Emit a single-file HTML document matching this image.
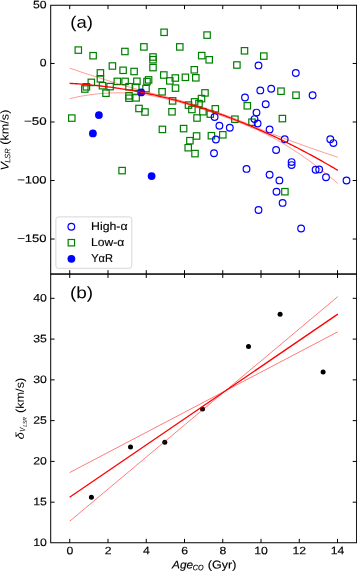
<!DOCTYPE html><html><head><meta charset="utf-8"><style>html,body{margin:0;padding:0;background:#fff;width:357px;height:571px;overflow:hidden}</style></head><body><svg width="357" height="571" viewBox="0 0 357 571" style="display:block;will-change:transform">
<rect width="100%" height="100%" fill="#fff"/>
<defs><clipPath id="ca"><rect x="50.7" y="5.25" width="305.90000000000003" height="268.8"/></clipPath><clipPath id="cb"><rect x="50.7" y="274.05" width="305.90000000000003" height="268.7"/></clipPath></defs>
<g clip-path="url(#ca)">
<rect x="75.10" y="46.90" width="6.4" height="6.4" fill="none" stroke="#008000" stroke-width="1.2"/>
<rect x="89.90" y="52.50" width="6.4" height="6.4" fill="none" stroke="#008000" stroke-width="1.2"/>
<rect x="109.20" y="62.80" width="6.4" height="6.4" fill="none" stroke="#008000" stroke-width="1.2"/>
<rect x="97.20" y="69.70" width="6.4" height="6.4" fill="none" stroke="#008000" stroke-width="1.2"/>
<rect x="97.20" y="75.60" width="6.4" height="6.4" fill="none" stroke="#008000" stroke-width="1.2"/>
<rect x="88.10" y="79.20" width="6.4" height="6.4" fill="none" stroke="#008000" stroke-width="1.2"/>
<rect x="83.20" y="83.60" width="6.4" height="6.4" fill="none" stroke="#008000" stroke-width="1.2"/>
<rect x="81.60" y="85.80" width="6.4" height="6.4" fill="none" stroke="#008000" stroke-width="1.2"/>
<rect x="99.30" y="82.50" width="6.4" height="6.4" fill="none" stroke="#008000" stroke-width="1.2"/>
<rect x="106.90" y="83.40" width="6.4" height="6.4" fill="none" stroke="#008000" stroke-width="1.2"/>
<rect x="102.80" y="90.00" width="6.4" height="6.4" fill="none" stroke="#008000" stroke-width="1.2"/>
<rect x="114.10" y="78.20" width="6.4" height="6.4" fill="none" stroke="#008000" stroke-width="1.2"/>
<rect x="68.60" y="114.90" width="6.4" height="6.4" fill="none" stroke="#008000" stroke-width="1.2"/>
<rect x="160.90" y="29.10" width="6.4" height="6.4" fill="none" stroke="#008000" stroke-width="1.2"/>
<rect x="140.70" y="43.70" width="6.4" height="6.4" fill="none" stroke="#008000" stroke-width="1.2"/>
<rect x="121.70" y="48.30" width="6.4" height="6.4" fill="none" stroke="#008000" stroke-width="1.2"/>
<rect x="149.80" y="53.80" width="6.4" height="6.4" fill="none" stroke="#008000" stroke-width="1.2"/>
<rect x="149.80" y="56.50" width="6.4" height="6.4" fill="none" stroke="#008000" stroke-width="1.2"/>
<rect x="119.90" y="67.10" width="6.4" height="6.4" fill="none" stroke="#008000" stroke-width="1.2"/>
<rect x="130.90" y="68.30" width="6.4" height="6.4" fill="none" stroke="#008000" stroke-width="1.2"/>
<rect x="149.80" y="64.40" width="6.4" height="6.4" fill="none" stroke="#008000" stroke-width="1.2"/>
<rect x="160.60" y="71.80" width="6.4" height="6.4" fill="none" stroke="#008000" stroke-width="1.2"/>
<rect x="121.90" y="78.20" width="6.4" height="6.4" fill="none" stroke="#008000" stroke-width="1.2"/>
<rect x="133.70" y="78.10" width="6.4" height="6.4" fill="none" stroke="#008000" stroke-width="1.2"/>
<rect x="145.40" y="76.70" width="6.4" height="6.4" fill="none" stroke="#008000" stroke-width="1.2"/>
<rect x="143.80" y="78.40" width="6.4" height="6.4" fill="none" stroke="#008000" stroke-width="1.2"/>
<rect x="125.80" y="83.50" width="6.4" height="6.4" fill="none" stroke="#008000" stroke-width="1.2"/>
<rect x="132.60" y="84.00" width="6.4" height="6.4" fill="none" stroke="#008000" stroke-width="1.2"/>
<rect x="142.80" y="85.40" width="6.4" height="6.4" fill="none" stroke="#008000" stroke-width="1.2"/>
<rect x="125.80" y="92.60" width="6.4" height="6.4" fill="none" stroke="#008000" stroke-width="1.2"/>
<rect x="125.80" y="95.00" width="6.4" height="6.4" fill="none" stroke="#008000" stroke-width="1.2"/>
<rect x="132.90" y="94.70" width="6.4" height="6.4" fill="none" stroke="#008000" stroke-width="1.2"/>
<rect x="135.80" y="105.30" width="6.4" height="6.4" fill="none" stroke="#008000" stroke-width="1.2"/>
<rect x="141.80" y="108.80" width="6.4" height="6.4" fill="none" stroke="#008000" stroke-width="1.2"/>
<rect x="158.90" y="88.60" width="6.4" height="6.4" fill="none" stroke="#008000" stroke-width="1.2"/>
<rect x="159.20" y="126.20" width="6.4" height="6.4" fill="none" stroke="#008000" stroke-width="1.2"/>
<rect x="118.90" y="167.40" width="6.4" height="6.4" fill="none" stroke="#008000" stroke-width="1.2"/>
<rect x="203.90" y="31.90" width="6.4" height="6.4" fill="none" stroke="#008000" stroke-width="1.2"/>
<rect x="176.60" y="43.70" width="6.4" height="6.4" fill="none" stroke="#008000" stroke-width="1.2"/>
<rect x="198.50" y="52.40" width="6.4" height="6.4" fill="none" stroke="#008000" stroke-width="1.2"/>
<rect x="206.00" y="56.60" width="6.4" height="6.4" fill="none" stroke="#008000" stroke-width="1.2"/>
<rect x="191.10" y="66.60" width="6.4" height="6.4" fill="none" stroke="#008000" stroke-width="1.2"/>
<rect x="166.60" y="77.70" width="6.4" height="6.4" fill="none" stroke="#008000" stroke-width="1.2"/>
<rect x="172.10" y="74.80" width="6.4" height="6.4" fill="none" stroke="#008000" stroke-width="1.2"/>
<rect x="182.20" y="74.10" width="6.4" height="6.4" fill="none" stroke="#008000" stroke-width="1.2"/>
<rect x="192.60" y="74.60" width="6.4" height="6.4" fill="none" stroke="#008000" stroke-width="1.2"/>
<rect x="172.30" y="84.90" width="6.4" height="6.4" fill="none" stroke="#008000" stroke-width="1.2"/>
<rect x="169.40" y="97.70" width="6.4" height="6.4" fill="none" stroke="#008000" stroke-width="1.2"/>
<rect x="168.80" y="108.60" width="6.4" height="6.4" fill="none" stroke="#008000" stroke-width="1.2"/>
<rect x="185.30" y="101.90" width="6.4" height="6.4" fill="none" stroke="#008000" stroke-width="1.2"/>
<rect x="191.40" y="98.70" width="6.4" height="6.4" fill="none" stroke="#008000" stroke-width="1.2"/>
<rect x="188.70" y="106.30" width="6.4" height="6.4" fill="none" stroke="#008000" stroke-width="1.2"/>
<rect x="195.80" y="100.40" width="6.4" height="6.4" fill="none" stroke="#008000" stroke-width="1.2"/>
<rect x="198.30" y="95.40" width="6.4" height="6.4" fill="none" stroke="#008000" stroke-width="1.2"/>
<rect x="201.80" y="89.70" width="6.4" height="6.4" fill="none" stroke="#008000" stroke-width="1.2"/>
<rect x="199.70" y="108.50" width="6.4" height="6.4" fill="none" stroke="#008000" stroke-width="1.2"/>
<rect x="193.80" y="114.80" width="6.4" height="6.4" fill="none" stroke="#008000" stroke-width="1.2"/>
<rect x="207.10" y="110.90" width="6.4" height="6.4" fill="none" stroke="#008000" stroke-width="1.2"/>
<rect x="212.10" y="105.60" width="6.4" height="6.4" fill="none" stroke="#008000" stroke-width="1.2"/>
<rect x="180.40" y="125.40" width="6.4" height="6.4" fill="none" stroke="#008000" stroke-width="1.2"/>
<rect x="193.40" y="132.80" width="6.4" height="6.4" fill="none" stroke="#008000" stroke-width="1.2"/>
<rect x="186.70" y="137.50" width="6.4" height="6.4" fill="none" stroke="#008000" stroke-width="1.2"/>
<rect x="185.00" y="144.50" width="6.4" height="6.4" fill="none" stroke="#008000" stroke-width="1.2"/>
<rect x="191.80" y="150.40" width="6.4" height="6.4" fill="none" stroke="#008000" stroke-width="1.2"/>
<rect x="208.20" y="132.50" width="6.4" height="6.4" fill="none" stroke="#008000" stroke-width="1.2"/>
<rect x="219.60" y="131.60" width="6.4" height="6.4" fill="none" stroke="#008000" stroke-width="1.2"/>
<rect x="241.30" y="47.60" width="6.4" height="6.4" fill="none" stroke="#008000" stroke-width="1.2"/>
<rect x="260.60" y="52.90" width="6.4" height="6.4" fill="none" stroke="#008000" stroke-width="1.2"/>
<rect x="233.70" y="61.80" width="6.4" height="6.4" fill="none" stroke="#008000" stroke-width="1.2"/>
<rect x="244.10" y="102.60" width="6.4" height="6.4" fill="none" stroke="#008000" stroke-width="1.2"/>
<rect x="231.70" y="116.00" width="6.4" height="6.4" fill="none" stroke="#008000" stroke-width="1.2"/>
<rect x="248.80" y="119.00" width="6.4" height="6.4" fill="none" stroke="#008000" stroke-width="1.2"/>
<rect x="277.80" y="88.00" width="6.4" height="6.4" fill="none" stroke="#008000" stroke-width="1.2"/>
<rect x="292.80" y="92.00" width="6.4" height="6.4" fill="none" stroke="#008000" stroke-width="1.2"/>
<rect x="279.20" y="115.40" width="6.4" height="6.4" fill="none" stroke="#008000" stroke-width="1.2"/>
<rect x="281.70" y="188.50" width="6.4" height="6.4" fill="none" stroke="#008000" stroke-width="1.2"/>
<circle cx="258.5" cy="65.4" r="3.35" fill="none" stroke="#0000ff" stroke-width="1.2"/>
<circle cx="295.8" cy="73.0" r="3.35" fill="none" stroke="#0000ff" stroke-width="1.2"/>
<circle cx="260.3" cy="90.4" r="3.35" fill="none" stroke="#0000ff" stroke-width="1.2"/>
<circle cx="271.2" cy="88.8" r="3.35" fill="none" stroke="#0000ff" stroke-width="1.2"/>
<circle cx="312.6" cy="95.2" r="3.35" fill="none" stroke="#0000ff" stroke-width="1.2"/>
<circle cx="245.0" cy="97.5" r="3.35" fill="none" stroke="#0000ff" stroke-width="1.2"/>
<circle cx="265.7" cy="104.3" r="3.35" fill="none" stroke="#0000ff" stroke-width="1.2"/>
<circle cx="256.5" cy="112.6" r="3.35" fill="none" stroke="#0000ff" stroke-width="1.2"/>
<circle cx="214.6" cy="117.0" r="3.35" fill="none" stroke="#0000ff" stroke-width="1.2"/>
<circle cx="254.5" cy="119.1" r="3.35" fill="none" stroke="#0000ff" stroke-width="1.2"/>
<circle cx="257.6" cy="123.5" r="3.35" fill="none" stroke="#0000ff" stroke-width="1.2"/>
<circle cx="219.4" cy="125.8" r="3.35" fill="none" stroke="#0000ff" stroke-width="1.2"/>
<circle cx="229.8" cy="127.8" r="3.35" fill="none" stroke="#0000ff" stroke-width="1.2"/>
<circle cx="269.6" cy="129.4" r="3.35" fill="none" stroke="#0000ff" stroke-width="1.2"/>
<circle cx="215.9" cy="139.5" r="3.35" fill="none" stroke="#0000ff" stroke-width="1.2"/>
<circle cx="284.7" cy="139.3" r="3.35" fill="none" stroke="#0000ff" stroke-width="1.2"/>
<circle cx="214.0" cy="153.2" r="3.35" fill="none" stroke="#0000ff" stroke-width="1.2"/>
<circle cx="276.1" cy="150.0" r="3.35" fill="none" stroke="#0000ff" stroke-width="1.2"/>
<circle cx="291.6" cy="162.1" r="3.35" fill="none" stroke="#0000ff" stroke-width="1.2"/>
<circle cx="291.6" cy="165.1" r="3.35" fill="none" stroke="#0000ff" stroke-width="1.2"/>
<circle cx="246.5" cy="168.9" r="3.35" fill="none" stroke="#0000ff" stroke-width="1.2"/>
<circle cx="269.6" cy="174.7" r="3.35" fill="none" stroke="#0000ff" stroke-width="1.2"/>
<circle cx="279.4" cy="180.4" r="3.35" fill="none" stroke="#0000ff" stroke-width="1.2"/>
<circle cx="315.6" cy="169.8" r="3.35" fill="none" stroke="#0000ff" stroke-width="1.2"/>
<circle cx="319.2" cy="169.4" r="3.35" fill="none" stroke="#0000ff" stroke-width="1.2"/>
<circle cx="326.0" cy="177.3" r="3.35" fill="none" stroke="#0000ff" stroke-width="1.2"/>
<circle cx="346.5" cy="180.5" r="3.35" fill="none" stroke="#0000ff" stroke-width="1.2"/>
<circle cx="330.3" cy="139.3" r="3.35" fill="none" stroke="#0000ff" stroke-width="1.2"/>
<circle cx="333.4" cy="143.1" r="3.35" fill="none" stroke="#0000ff" stroke-width="1.2"/>
<circle cx="276.5" cy="191.7" r="3.35" fill="none" stroke="#0000ff" stroke-width="1.2"/>
<circle cx="282.6" cy="202.9" r="3.35" fill="none" stroke="#0000ff" stroke-width="1.2"/>
<circle cx="258.5" cy="210.0" r="3.35" fill="none" stroke="#0000ff" stroke-width="1.2"/>
<circle cx="301.1" cy="228.5" r="3.35" fill="none" stroke="#0000ff" stroke-width="1.2"/>
<circle cx="98.9" cy="115.1" r="3.9" fill="#0000ff"/>
<circle cx="92.9" cy="133.4" r="3.9" fill="#0000ff"/>
<circle cx="141.2" cy="92.4" r="3.9" fill="#0000ff"/>
<circle cx="151.6" cy="176.1" r="3.9" fill="#0000ff"/>
<polyline points="69.60,68.14 71.85,68.90 74.11,69.66 76.36,70.42 78.62,71.17 80.87,71.92 83.12,72.66 85.38,73.40 87.63,74.14 89.88,74.87 92.14,75.60 94.39,76.33 96.65,77.05 98.90,77.77 101.15,78.48 103.41,79.19 105.66,79.90 107.91,80.60 110.17,81.30 112.42,81.99 114.68,82.68 116.93,83.36 119.18,84.04 121.44,84.72 123.69,85.39 125.94,86.06 128.20,86.72 130.45,87.37 132.71,88.02 134.96,88.67 137.21,89.30 139.47,89.93 141.72,90.56 143.97,91.17 146.23,91.77 148.48,92.37 150.74,92.96 152.99,93.53 155.24,94.10 157.50,94.67 159.75,95.22 162.01,95.78 164.26,96.34 166.51,96.90 168.77,97.47 171.02,98.05 173.27,98.64 175.53,99.23 177.78,99.84 180.04,100.46 182.29,101.08 184.54,101.72 186.80,102.37 189.05,103.03 191.30,103.70 193.56,104.37 195.81,105.06 198.07,105.76 200.32,106.47 202.57,107.19 204.83,107.93 207.08,108.67 209.33,109.42 211.59,110.18 213.84,110.95 216.10,111.73 218.35,112.53 220.60,113.33 222.86,114.14 225.11,114.97 227.36,115.80 229.62,116.65 231.87,117.50 234.13,118.37 236.38,119.24 238.63,120.13 240.89,121.03 243.14,121.93 245.39,122.85 247.65,123.77 249.90,124.70 252.16,125.64 254.41,126.58 256.66,127.52 258.92,128.45 261.17,129.38 263.43,130.31 265.68,131.22 267.93,132.12 270.19,133.02 272.44,133.91 274.69,134.78 276.95,135.65 279.20,136.51 281.46,137.37 283.71,138.22 285.96,139.06 288.22,139.90 290.47,140.73 292.72,141.56 294.98,142.38 297.23,143.20 299.49,144.01 301.74,144.82 303.99,145.63 306.25,146.43 308.50,147.22 310.75,148.01 313.01,148.80 315.26,149.59 317.52,150.37 319.77,151.14 322.02,151.91 324.28,152.68 326.53,153.45 328.78,154.21 331.04,154.97 333.29,155.72 335.55,156.47 337.80,157.22" fill="none" stroke="#ff0000" stroke-opacity="0.5" stroke-width="0.8"/>
<polyline points="69.60,98.63 71.85,98.11 74.11,97.61 76.36,97.14 78.62,96.69 80.87,96.26 83.12,95.86 85.38,95.49 87.63,95.14 89.88,94.81 92.14,94.51 94.39,94.23 96.65,93.98 98.90,93.75 101.15,93.55 103.41,93.37 105.66,93.22 107.91,93.09 110.17,92.98 112.42,92.91 114.68,92.85 116.93,92.82 119.18,92.82 121.44,92.84 123.69,92.89 125.94,92.96 128.20,93.06 130.45,93.18 132.71,93.33 134.96,93.51 137.21,93.72 139.47,93.95 141.72,94.22 143.97,94.51 146.23,94.83 148.48,95.18 150.74,95.56 152.99,95.97 155.24,96.41 157.50,96.88 159.75,97.37 162.01,97.88 164.26,98.41 166.51,98.96 168.77,99.52 171.02,100.10 173.27,100.68 175.53,101.28 177.78,101.89 180.04,102.50 182.29,103.13 184.54,103.77 186.80,104.42 189.05,105.08 191.30,105.74 193.56,106.42 195.81,107.11 198.07,107.81 200.32,108.52 202.57,109.24 204.83,109.97 207.08,110.72 209.33,111.47 211.59,112.23 213.84,113.00 216.10,113.78 218.35,114.58 220.60,115.38 222.86,116.19 225.11,117.02 227.36,117.85 229.62,118.70 231.87,119.55 234.13,120.42 236.38,121.29 238.63,122.18 240.89,123.07 243.14,123.98 245.39,124.90 247.65,125.83 249.90,126.77 252.16,127.73 254.41,128.71 256.66,129.70 258.92,130.73 261.17,131.77 263.43,132.85 265.68,133.95 267.93,135.08 270.19,136.25 272.44,137.44 274.69,138.66 276.95,139.92 279.20,141.20 281.46,142.50 283.71,143.84 285.96,145.20 288.22,146.59 290.47,148.00 292.72,149.44 294.98,150.91 297.23,152.40 299.49,153.92 301.74,155.46 303.99,157.02 306.25,158.62 308.50,160.23 310.75,161.87 313.01,163.54 315.26,165.23 317.52,166.95 319.77,168.68 322.02,170.45 324.28,172.24 326.53,174.05 328.78,175.89 331.04,177.75 333.29,179.64 335.55,181.55 337.80,183.49" fill="none" stroke="#ff0000" stroke-opacity="0.5" stroke-width="0.8"/>
<polyline points="69.60,83.38 71.85,83.50 74.11,83.63 76.36,83.77 78.62,83.93 80.87,84.09 83.12,84.26 85.38,84.44 87.63,84.64 89.88,84.84 92.14,85.05 94.39,85.28 96.65,85.51 98.90,85.76 101.15,86.01 103.41,86.28 105.66,86.55 107.91,86.84 110.17,87.14 112.42,87.44 114.68,87.76 116.93,88.09 119.18,88.42 121.44,88.77 123.69,89.13 125.94,89.50 128.20,89.88 130.45,90.27 132.71,90.67 134.96,91.08 137.21,91.50 139.47,91.93 141.72,92.37 143.97,92.82 146.23,93.29 148.48,93.76 150.74,94.24 152.99,94.73 155.24,95.24 157.50,95.75 159.75,96.27 162.01,96.81 164.26,97.35 166.51,97.91 168.77,98.47 171.02,99.05 173.27,99.64 175.53,100.23 177.78,100.84 180.04,101.46 182.29,102.08 184.54,102.72 186.80,103.37 189.05,104.03 191.30,104.70 193.56,105.37 195.81,106.06 198.07,106.76 200.32,107.47 202.57,108.19 204.83,108.93 207.08,109.67 209.33,110.42 211.59,111.18 213.84,111.95 216.10,112.73 218.35,113.53 220.60,114.33 222.86,115.14 225.11,115.97 227.36,116.80 229.62,117.65 231.87,118.50 234.13,119.37 236.38,120.24 238.63,121.13 240.89,122.03 243.14,122.93 245.39,123.85 247.65,124.78 249.90,125.71 252.16,126.66 254.41,127.62 256.66,128.59 258.92,129.57 261.17,130.56 263.43,131.56 265.68,132.57 267.93,133.59 270.19,134.62 272.44,135.66 274.69,136.71 276.95,137.77 279.20,138.84 281.46,139.93 283.71,141.02 285.96,142.12 288.22,143.24 290.47,144.36 292.72,145.49 294.98,146.64 297.23,147.79 299.49,148.96 301.74,150.13 303.99,151.32 306.25,152.52 308.50,153.72 310.75,154.94 313.01,156.17 315.26,157.40 317.52,158.65 319.77,159.91 322.02,161.18 324.28,162.46 326.53,163.75 328.78,165.05 331.04,166.36 333.29,167.68 335.55,169.01 337.80,170.35" fill="none" stroke="#ff0000" stroke-width="1.3"/>
</g>
<g clip-path="url(#cb)">
<circle cx="91.4" cy="497.3" r="2.5" fill="#000"/>
<circle cx="130.5" cy="447.1" r="2.5" fill="#000"/>
<circle cx="164.8" cy="442.2" r="2.5" fill="#000"/>
<circle cx="202.5" cy="409.1" r="2.5" fill="#000"/>
<circle cx="248.5" cy="346.4" r="2.5" fill="#000"/>
<circle cx="280.1" cy="314.3" r="2.5" fill="#000"/>
<circle cx="323.1" cy="372.0" r="2.5" fill="#000"/>
<line x1="69.6" y1="472.6" x2="337.8" y2="331.8" stroke="#ff0000" stroke-opacity="0.65" stroke-width="0.8"/>
<line x1="69.6" y1="521.3" x2="337.8" y2="296.6" stroke="#ff0000" stroke-opacity="0.65" stroke-width="0.8"/>
<line x1="69.6" y1="497.3" x2="337.8" y2="314.1" stroke="#ff0000" stroke-opacity="1" stroke-width="1.3"/>
</g>
<rect x="55.9" y="216.9" width="75.9" height="51.4" rx="2.5" ry="2.5" fill="#fff" fill-opacity="0.8" stroke="#d6d6d6" stroke-width="1"/>
<circle cx="71.35" cy="226.8" r="3.35" fill="none" stroke="#0000ff" stroke-width="1.2"/>
<rect x="68.14999999999999" y="239.5" width="6.4" height="6.4" fill="none" stroke="#008000" stroke-width="1.2"/>
<circle cx="71.4" cy="258.8" r="3.9" fill="#0000ff"/>
<rect x="50.7" y="5.25" width="305.90000000000003" height="268.8" fill="none" stroke="#000" stroke-width="1.0"/>
<rect x="50.7" y="274.05" width="305.90000000000003" height="268.7" fill="none" stroke="#000" stroke-width="1.0"/>
<path d="M69.74,5.25v3.9 M69.74,274.05v-3.9 M69.74,274.05v3.9 M69.74,542.75v-3.9 M107.99,5.25v3.9 M107.99,274.05v-3.9 M107.99,274.05v3.9 M107.99,542.75v-3.9 M146.25,5.25v3.9 M146.25,274.05v-3.9 M146.25,274.05v3.9 M146.25,542.75v-3.9 M184.50,5.25v3.9 M184.50,274.05v-3.9 M184.50,274.05v3.9 M184.50,542.75v-3.9 M222.76,5.25v3.9 M222.76,274.05v-3.9 M222.76,274.05v3.9 M222.76,542.75v-3.9 M261.01,5.25v3.9 M261.01,274.05v-3.9 M261.01,274.05v3.9 M261.01,542.75v-3.9 M299.26,5.25v3.9 M299.26,274.05v-3.9 M299.26,274.05v3.9 M299.26,542.75v-3.9 M337.52,5.25v3.9 M337.52,274.05v-3.9 M337.52,274.05v3.9 M337.52,542.75v-3.9 M50.7,63.46h3.9 M356.6,63.46h-3.9 M50.7,121.99h3.9 M356.6,121.99h-3.9 M50.7,180.51h3.9 M356.6,180.51h-3.9 M50.7,239.04h3.9 M356.6,239.04h-3.9 M50.7,502.18h3.9 M356.6,502.18h-3.9 M50.7,461.41h3.9 M356.6,461.41h-3.9 M50.7,420.63h3.9 M356.6,420.63h-3.9 M50.7,379.86h3.9 M356.6,379.86h-3.9 M50.7,339.09h3.9 M356.6,339.09h-3.9 M50.7,298.32h3.9 M356.6,298.32h-3.9" stroke="#000" stroke-width="1" fill="none"/>
<g fill="#000" stroke="#000" stroke-width="0.15">
<text x="32.925" y="8.322" transform="rotate(0.05 32.92 8.32)" font-family='"Liberation Sans", sans-serif' font-size="10.800" textLength="13.610" lengthAdjust="spacingAndGlyphs">50</text>
<text x="39.675" y="66.347" transform="rotate(0.05 39.67 66.35)" font-family='"Liberation Sans", sans-serif' font-size="10.800" textLength="6.810" lengthAdjust="spacingAndGlyphs">0</text>
<text x="24.050" y="124.873" transform="rotate(0.05 24.05 124.87)" font-family='"Liberation Sans", sans-serif' font-size="10.800" textLength="22.580" lengthAdjust="spacingAndGlyphs">−50</text>
<text x="17.175" y="183.398" transform="rotate(0.05 17.17 183.40)" font-family='"Liberation Sans", sans-serif' font-size="10.800" textLength="29.380" lengthAdjust="spacingAndGlyphs">−100</text>
<text x="17.175" y="241.923" transform="rotate(0.05 17.17 241.92)" font-family='"Liberation Sans", sans-serif' font-size="10.800" textLength="29.380" lengthAdjust="spacingAndGlyphs">−150</text>
<text x="33.175" y="546.038" transform="rotate(0.05 33.17 546.04)" font-family='"Liberation Sans", sans-serif' font-size="10.800" textLength="13.610" lengthAdjust="spacingAndGlyphs">10</text>
<text x="33.175" y="505.203" transform="rotate(0.05 33.17 505.20)" font-family='"Liberation Sans", sans-serif' font-size="10.800" textLength="13.610" lengthAdjust="spacingAndGlyphs">15</text>
<text x="33.175" y="464.494" transform="rotate(0.05 33.17 464.49)" font-family='"Liberation Sans", sans-serif' font-size="10.800" textLength="13.610" lengthAdjust="spacingAndGlyphs">20</text>
<text x="33.175" y="423.721" transform="rotate(0.05 33.17 423.72)" font-family='"Liberation Sans", sans-serif' font-size="10.800" textLength="13.610" lengthAdjust="spacingAndGlyphs">25</text>
<text x="33.175" y="382.950" transform="rotate(0.05 33.17 382.95)" font-family='"Liberation Sans", sans-serif' font-size="10.800" textLength="13.610" lengthAdjust="spacingAndGlyphs">30</text>
<text x="33.175" y="342.178" transform="rotate(0.05 33.17 342.18)" font-family='"Liberation Sans", sans-serif' font-size="10.800" textLength="13.610" lengthAdjust="spacingAndGlyphs">35</text>
<text x="33.175" y="301.405" transform="rotate(0.05 33.17 301.41)" font-family='"Liberation Sans", sans-serif' font-size="10.800" textLength="13.610" lengthAdjust="spacingAndGlyphs">40</text>
<text x="66.502" y="554.288" transform="rotate(0.05 66.50 554.29)" font-family='"Liberation Sans", sans-serif' font-size="10.800" textLength="6.810" lengthAdjust="spacingAndGlyphs">0</text>
<text x="104.819" y="554.350" transform="rotate(0.05 104.82 554.35)" font-family='"Liberation Sans", sans-serif' font-size="10.800" textLength="6.810" lengthAdjust="spacingAndGlyphs">2</text>
<text x="143.073" y="554.288" transform="rotate(0.05 143.07 554.29)" font-family='"Liberation Sans", sans-serif' font-size="10.800" textLength="6.810" lengthAdjust="spacingAndGlyphs">4</text>
<text x="181.264" y="554.288" transform="rotate(0.05 181.26 554.29)" font-family='"Liberation Sans", sans-serif' font-size="10.800" textLength="6.810" lengthAdjust="spacingAndGlyphs">6</text>
<text x="219.581" y="554.288" transform="rotate(0.05 219.58 554.29)" font-family='"Liberation Sans", sans-serif' font-size="10.800" textLength="6.810" lengthAdjust="spacingAndGlyphs">8</text>
<text x="254.210" y="554.288" transform="rotate(0.05 254.21 554.29)" font-family='"Liberation Sans", sans-serif' font-size="10.800" textLength="13.610" lengthAdjust="spacingAndGlyphs">10</text>
<text x="292.526" y="554.350" transform="rotate(0.05 292.53 554.35)" font-family='"Liberation Sans", sans-serif' font-size="10.800" textLength="13.610" lengthAdjust="spacingAndGlyphs">12</text>
<text x="330.655" y="554.288" transform="rotate(0.05 330.66 554.29)" font-family='"Liberation Sans", sans-serif' font-size="10.800" textLength="13.610" lengthAdjust="spacingAndGlyphs">14</text>
<text x="70.275" y="27.663" transform="rotate(0.05 70.28 27.66)" font-family='"Liberation Sans", sans-serif' font-size="16.500" textLength="22.570" lengthAdjust="spacingAndGlyphs" stroke-width="0">(a)</text>
<text x="69.975" y="298.212" transform="rotate(0.05 69.97 298.21)" font-family='"Liberation Sans", sans-serif' font-size="16.500" textLength="23.180" lengthAdjust="spacingAndGlyphs" stroke-width="0">(b)</text>
<text x="91.050" y="229.900" transform="rotate(0.05 91.05 229.90)" font-family='"Liberation Sans", sans-serif' font-size="11.400" textLength="36.490" lengthAdjust="spacingAndGlyphs">High-α</text>
<text x="91.050" y="246.000" transform="rotate(0.05 91.05 246.00)" font-family='"Liberation Sans", sans-serif' font-size="11.400" textLength="33.110" lengthAdjust="spacingAndGlyphs">Low-α</text>
<text x="91.150" y="262.100" transform="rotate(0.05 91.15 262.10)" font-family='"Liberation Sans", sans-serif' font-size="11.400" textLength="21.770" lengthAdjust="spacingAndGlyphs">YαR</text>
<text x="172.000" y="568.600" transform="rotate(0.05 172.00 568.60)" font-family='"Liberation Sans", sans-serif' font-size="11.300" font-style="italic" textLength="21.080" lengthAdjust="spacingAndGlyphs">Age</text>
<text x="192.825" y="570.300" transform="rotate(0.05 192.82 570.30)" font-family='"Liberation Sans", sans-serif' font-size="7.910" font-style="italic" textLength="10.720" lengthAdjust="spacingAndGlyphs">CO</text>
<text x="207.850" y="568.600" transform="rotate(0.05 207.85 568.60)" font-family='"Liberation Sans", sans-serif' font-size="11.300" textLength="28.520" lengthAdjust="spacingAndGlyphs">(Gyr)</text>
<g stroke-width="0" transform="translate(8.4,300.0) rotate(-89.95)"><text x="129.475" y="0.000" transform="rotate(0.05 129.47 0.00)" font-family='"Liberation Sans", sans-serif' font-size="11.300" font-style="italic" textLength="8.420" lengthAdjust="spacingAndGlyphs">V</text><text x="137.250" y="1.700" transform="rotate(0.05 137.25 1.70)" font-family='"Liberation Sans", sans-serif' font-size="7.910" font-style="italic" textLength="14.440" lengthAdjust="spacingAndGlyphs">LSR</text><text x="155.350" y="0.000" transform="rotate(0.05 155.35 0.00)" font-family='"Liberation Sans", sans-serif' font-size="11.300" textLength="35.050" lengthAdjust="spacingAndGlyphs">(km/s)</text></g>
<g stroke-width="0" transform="translate(23.6,500.0) rotate(-89.95)"><text x="60.625" y="0.000" transform="rotate(0.05 60.62 0.00)" font-family='"Liberation Sans", sans-serif' font-size="11.300" font-style="italic" textLength="7.330" lengthAdjust="spacingAndGlyphs">δ</text><text x="68.375" y="1.700" transform="rotate(0.05 68.38 1.70)" font-family='"Liberation Sans", sans-serif' font-size="7.910" font-style="italic" textLength="4.220" lengthAdjust="spacingAndGlyphs">V</text><text x="73.175" y="3.100" transform="rotate(0.05 73.18 3.10)" font-family='"Liberation Sans", sans-serif' font-size="5.537" font-style="italic" textLength="9.670" lengthAdjust="spacingAndGlyphs">LSR</text><text x="86.950" y="0.000" transform="rotate(0.05 86.95 0.00)" font-family='"Liberation Sans", sans-serif' font-size="11.300" textLength="35.290" lengthAdjust="spacingAndGlyphs">(km/s)</text></g>
</g>
</svg></body></html>
